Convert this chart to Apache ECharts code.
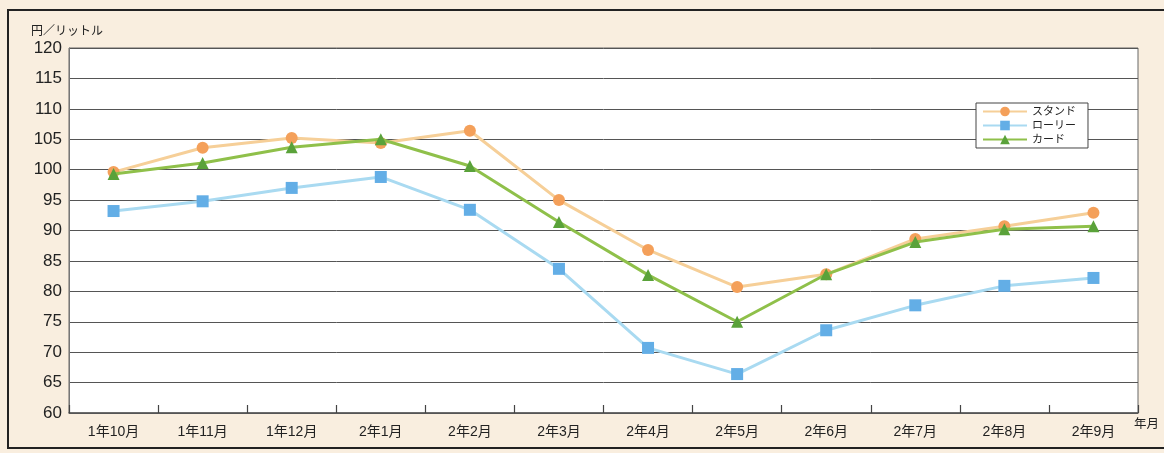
<!DOCTYPE html>
<html><head><meta charset="utf-8">
<script src="https://cdn.jsdelivr.net/npm/echarts@6/dist/echarts.min.js"></script>
<style>html,body{margin:0;padding:0;background:#fbf3e8;}#c{width:1164px;height:453px;}</style>
</head><body><div id="c"></div>
<script>
const categories = ['1年10月','1年11月','1年12月','2年1月','2年2月','2年3月','2年4月','2年5月','2年6月','2年7月','2年8月','2年9月'];
const stand = [99.6,103.6,105.2,104.4,106.4,95.0,86.8,80.7,82.8,88.6,90.7,92.9];
const lorry = [93.2,94.8,97.0,98.8,93.4,83.7,70.7,66.4,73.6,77.7,80.9,82.2];
const card  = [99.3,101.1,103.7,105.0,100.6,91.4,82.7,75.0,82.8,88.1,90.2,90.7];
const seriesNames = ['スタンド','ローリー','カード'];
const xAxisName = '年月';
const yAxisName = '円／リットル';
const yTicks = {min:60, max:120, interval:5};

const chart = echarts.init(document.getElementById('c'));
const font = '"Liberation Sans", Arial, "Noto Sans CJK JP", sans-serif';
chart.setOption({
  backgroundColor: '#f9eedf',
  textStyle:{fontFamily:font},
  graphic:[
    {type:'rect', shape:{x:8,y:10,width:1170,height:438}, style:{fill:'none', stroke:'#222', lineWidth:2}, z:-1},
    {type:'text', left:1134, top:418, style:{text:xAxisName, fontSize:12.5, fill:'#222', fontFamily:font}}
  ],
  grid:{left:69, right:26, top:48, bottom:40, show:true, backgroundColor:'#ffffff', borderColor:'#666', borderWidth:1, outerBoundsMode:'none', containLabel:false},
  legend:{
    orient:'vertical', left:976, top:103, itemGap:3, itemWidth:44, itemHeight:12,
    backgroundColor:'#ffffff', borderColor:'#444', borderWidth:1, padding:[3,12,3,6],
    textStyle:{fontSize:11, color:'#222', fontFamily:font},
    data: seriesNames
  },
  xAxis:{
    type:'category', data:categories, boundaryGap:true,
    axisLine:{lineStyle:{color:'#555', width:1.5}},
    axisTick:{show:true, inside:true, length:8, interval:0, lineStyle:{color:'#444', width:1.2}},
    axisLabel:{fontSize:14, color:'#222', margin:12},
    z:5
  },
  yAxis:{
    type:'value', min:yTicks.min, max:yTicks.max, interval:yTicks.interval,
    name:yAxisName, nameLocation:'end', nameGap:10,
    nameTextStyle:{fontSize:12, color:'#222', align:'left', padding:[0,0,0,-38]},
    axisLine:{show:true, lineStyle:{color:'#777'}},
    axisTick:{show:false},
    axisLabel:{fontSize:17, color:'#222', margin:7},
    splitLine:{lineStyle:{color:'#555', width:1}}
  },
  series:[
    {name:seriesNames[0], type:'line', data:stand, symbol:'circle', symbolSize:12,
     lineStyle:{color:'#f6cf98', width:3}, itemStyle:{color:'#f4a05a'}, z:3},
    {name:seriesNames[1], type:'line', data:lorry, symbol:'rect', symbolSize:12,
     lineStyle:{color:'#a9daf1', width:3}, itemStyle:{color:'#63aee6'}, z:2},
    {name:seriesNames[2], type:'line', data:card, symbol:'triangle', symbolSize:12,
     lineStyle:{color:'#8fc04a', width:3}, itemStyle:{color:'#5aa23a'}, z:4}
  ],
  animation:false
});
</script></body></html>
